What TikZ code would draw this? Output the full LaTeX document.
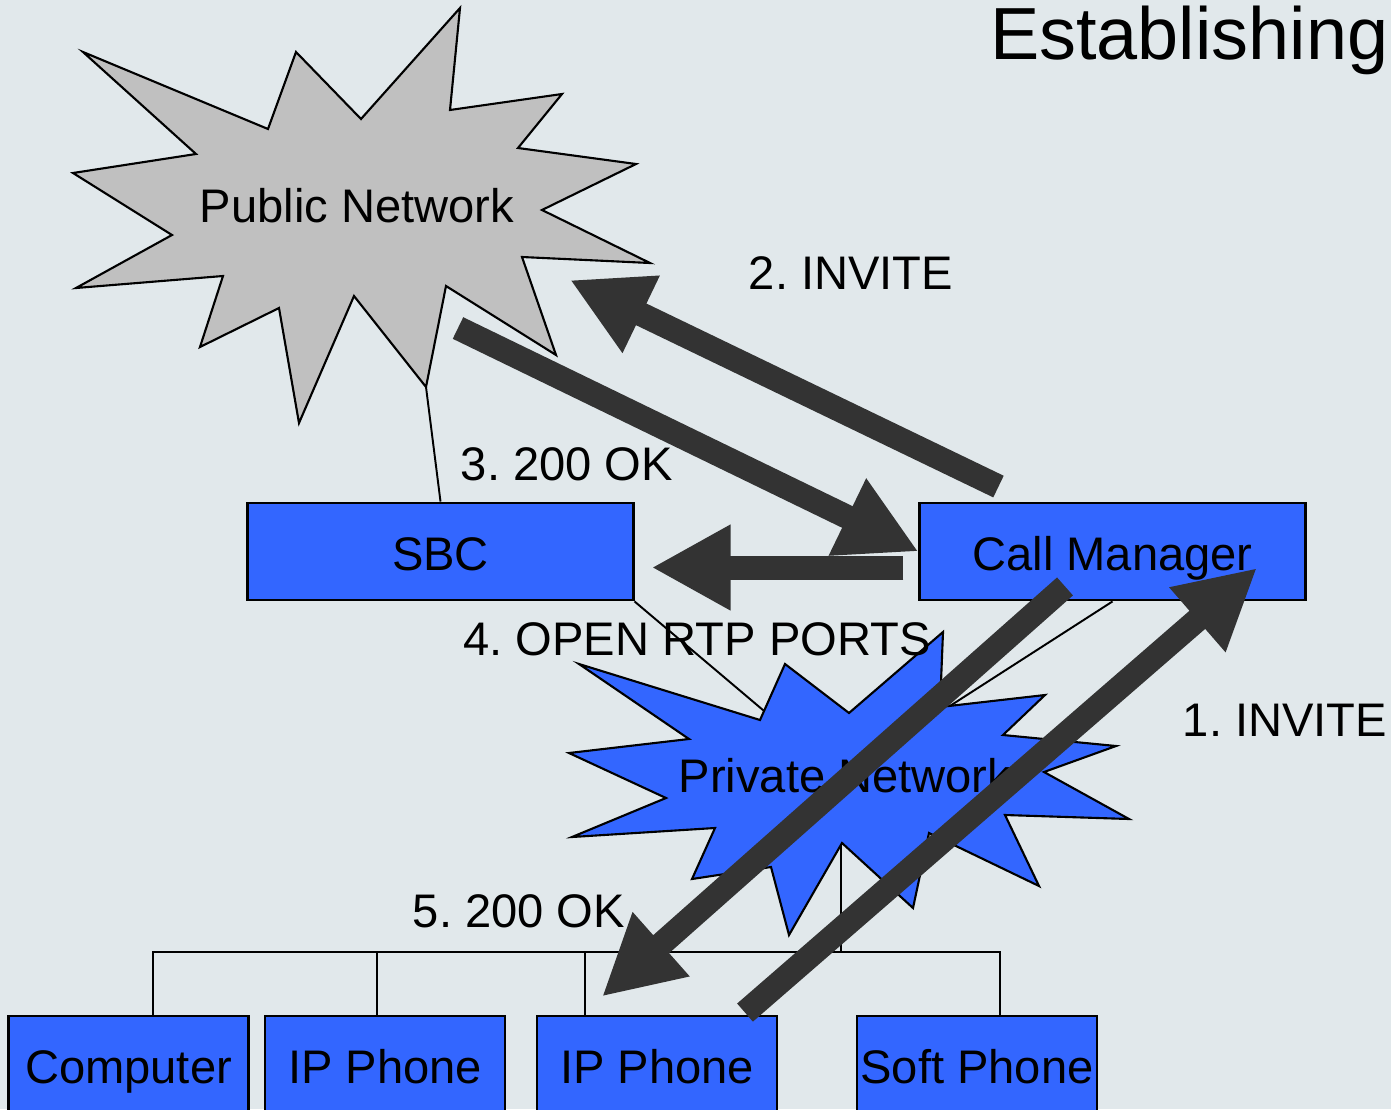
\documentclass[tikz,border=0pt]{standalone}
\usepackage{fontspec}
\setmainfont{Liberation Sans}
\usetikzlibrary{arrows.meta}
\frenchspacing

\definecolor{slidebg}{RGB}{225, 232, 235}
\definecolor{netblue}{RGB}{51, 102, 255}
\definecolor{netgray}{RGB}{192, 192, 192}
\definecolor{msgdark}{RGB}{51, 51, 51}

\tikzset{
    devbox/.style={draw, rectangle, fill=netblue, line width=0.8pt, minimum width=3.85cm, minimum height=0.97cm, inner sep=0pt, text height=0.5cm, text depth=0.13cm, font=\fontsize{13.4}{16}\selectfont},
    enddev/.style={devbox, minimum width=2.4cm},
    cloudstar/.style={draw, line width=0.6pt, line join=miter},
    wire/.style={draw, line width=0.55pt},
    msgarrow/.style={draw=msgdark, line width=0.24cm, -{Triangle[length=0.79cm, width=0.8cm]}},
    msglabel/.style={font=\fontsize{13.4}{16}\selectfont, anchor=base, inner sep=0pt},
}

\begin{document}
\begin{tikzpicture}[x=0.01cm, y=-0.01cm]
    % slide background
    \fill[slidebg] (0,0) rectangle (1391,1109);
    \useasboundingbox (0,0) rectangle (1391,1109);
    \clip (0,0) rectangle (1391,1109);

    % title, cut at the slide edge
    \node[font=\fontsize{21}{25}\selectfont, anchor=base east, inner sep=0pt] (title) at (1389,59) {Establishing};

    % servers
    \node[devbox] (sbc) at (440.5,551.5) {SBC};
    \node[devbox] (cm) at (1112.5,551.5) {Call Manager};

    % end devices
    \node[enddev] (comp) at (128.5,1064.5) {Computer};
    \node[enddev] (ip1) at (385,1064.5) {IP Phone};
    \node[enddev] (ip2) at (657,1064.5) {IP Phone};
    \node[enddev] (soft) at (977,1064.5) {Soft Phone};

    % links, the clouds cover their ends
    \coordinate (pubtip) at (426,387);
    \coordinate (privhub) at (841,776);
    \coordinate (bus) at (841,952);
    \draw[wire] (sbc.north) -- (pubtip);
    \draw[wire] (sbc.south east) -- (privhub);
    \draw[wire] (cm.south) -- (privhub);
    \draw[wire] (privhub) -- (bus);
    \draw[wire] ([xshift=2.45mm]comp.north) |- (bus) -| ([xshift=2.3mm]soft.north);
    \draw[wire] ([xshift=-0.8mm]ip1.north) |- (bus);
    \draw[wire] ([xshift=-7.2mm]ip2.north) |- (bus);

    % public network cloud
    \draw[cloudstar, fill=netgray] (460,8) -- (450,110) -- (562,94) -- (518,148) -- (636,164) -- (542,210)
        -- (650,263) -- (522,257) -- (556,355) -- (446,286) -- (426,387) -- (354,296) -- (299,423)
        -- (279,308) -- (200,347) -- (223,276) -- (76,288) -- (172,235) -- (73,173) -- (196,154)
        -- (83,52) -- (268,129) -- (296,52) -- (361,119) -- cycle;
    \node[msglabel] (pub) at (357,222) {Public Network};

    % private network cloud
    \draw[cloudstar, fill=netblue] (943,632) -- (940,707) -- (1045,695) -- (1003,735) -- (1116,746)
        -- (1044,772) -- (1129,819) -- (1005,815) -- (1039,886) -- (929,833) -- (913,908) -- (842,843)
        -- (789,935) -- (771,867) -- (692,879) -- (715,828) -- (572,837) -- (666,798) -- (569,753)
        -- (689,739) -- (579,664) -- (760,720) -- (785,664) -- (849,713) -- cycle;
    \node[msglabel] (priv) at (845,792) {Private Network};

    % message steps
    \node[msglabel] (inv1) at (1285,736) {1. INVITE};
    \node[msglabel] (inv2) at (851,289) {2. INVITE};
    \node[msglabel] (ok3) at (567,480) {3. 200 OK};
    \node[msglabel] (rtp4) at (697,655) {4. OPEN RTP PORTS};
    \node[msglabel] (ok5) at (519,927) {5. 200 OK};

    % signalling arrows
    \coordinate (pubin) at (570,280);
    \coordinate (pubout) at (458,328);
    \draw[msgarrow] ([shift={(88,-2)}]ip2.north) -- ([shift={(144.5,16.5)}]cm.center);
    \draw[msgarrow] ([shift={(80,-15)}]cm.north west) -- (pubin);
    \draw[msgarrow] (pubout) -- (cm.west);
    \draw[msgarrow] ([shift={(-15,16)}]cm.west) -- ([shift={(17,16)}]sbc.east);
    \draw[msgarrow] ([shift={(-47.5,-15)}]cm.south) -- ([shift={(-55,-18)}]ip2.north);
\end{tikzpicture}
\end{document}
